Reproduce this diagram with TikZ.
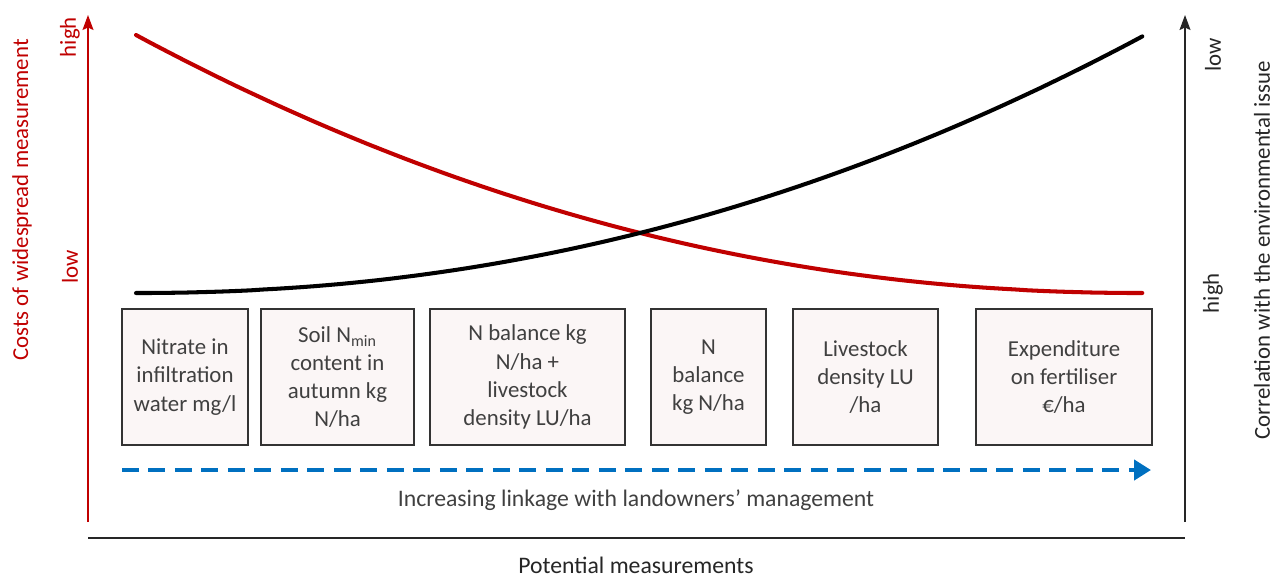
\documentclass[tikz,border=0pt]{standalone}
\usepackage{fontspec}
\setmainfont{Carlito}
\usepackage{xcolor}
\usetikzlibrary{arrows.meta}

\definecolor{costred}{HTML}{C00000}
\definecolor{linkblue}{HTML}{0070C0}
\definecolor{textgray}{HTML}{404040}
\definecolor{boxfill}{HTML}{FBF6F6}

\tikzset{
    measbox/.style={draw=black!80, line width=0.9pt, fill=boxfill, text=textgray,
        align=center, minimum height=2.72cm, inner sep=0pt,
        font=\fontsize{13}{16}\selectfont},
    axislabel/.style={rotate=90, font=\fontsize{13}{16}\selectfont},
    axisarrow/.style={line width=0.8pt, -{Stealth[length=0.3cm, width=0.22cm, inset=0.05cm]}}
}

\begin{document}
\begin{tikzpicture}[x=0.02cm, y=-0.02cm]
    \useasboundingbox (0,0) rectangle (1273,579);

    \coordinate (costbot) at (88,522);
    \coordinate (costtop) at (88,15);
    \coordinate (corrbot) at (1185,522);
    \coordinate (corrtop) at (1185,15);
    \coordinate (baseleft) at (88,538);
    \coordinate (baseright) at (1185,538);
    \coordinate (linkstart) at (122,470);
    \coordinate (linkend) at (1151,470);

    \draw[axisarrow, costred] (costbot) -- (costtop);
    \draw[axisarrow, black!85] (corrbot) -- (corrtop);
    \draw[line width=1pt, black!85] (baseleft) -- (baseright);

    \node[axislabel, text=costred] (costlabel) at (22,200) {Costs of widespread measurement};
    \node[axislabel, text=costred] (costhigh) at (70,37) {high};
    \node[axislabel, text=costred] (costlow) at (70,267) {low};
    \node[axislabel, text=black!85] (corrlabel) at (1262,250) {Correlation with the environmental issue};
    \node[axislabel, text=black!85] (corrlow) at (1213,55) {low};
    \node[axislabel, text=black!85] (corrhigh) at (1213,293) {high};

    \draw[costred, line width=2.3pt, line cap=round] plot[domain=0:1, samples=80]
        ({136+1007*\x}, {35+258*(1-(1-\x)^2.1)});
    \draw[black, line width=2.3pt, line cap=round] plot[domain=0:1, samples=80]
        ({136+1007*\x}, {293-257*\x^2.1});

    \node[measbox, minimum width=2.52cm] (nitrate) at (185,377) {Nitrate in\\infiltration\\water mg/l};
    \node[measbox, minimum width=3.06cm] (nmin) at (337.5,377) {Soil N\textsubscript{min}\\content in\\autumn kg\\N/ha};
    \node[measbox, minimum width=3.9cm] (balancelu) at (527.5,377) {N balance kg\\N/ha +\\livestock\\density LU/ha};
    \node[measbox, minimum width=2.3cm] (balance) at (708.5,377) {N\\balance\\kg N/ha};
    \node[measbox, minimum width=2.9cm] (livestock) at (865.5,377) {Livestock\\density LU\\/ha};
    \node[measbox, minimum width=3.52cm] (expend) at (1064,377) {Expenditure\\on fertiliser\\€/ha};

    \draw[linkblue, line width=2.8pt, dash pattern=on 0.34cm off 0.19cm,
        -{Triangle[length=0.34cm, width=0.4cm]}] (linkstart) -- (linkend);

    \node[text=textgray, font=\fontsize{13.5}{16}\selectfont] (linklabel) at (636,500)
        {Increasing linkage with landowners’ management};
    \node[text=black!85, font=\fontsize{13.5}{16}\selectfont, inner sep=0pt, anchor=base]
        (xlabel) at (636,573) {Potential measurements};
\end{tikzpicture}
\end{document}
